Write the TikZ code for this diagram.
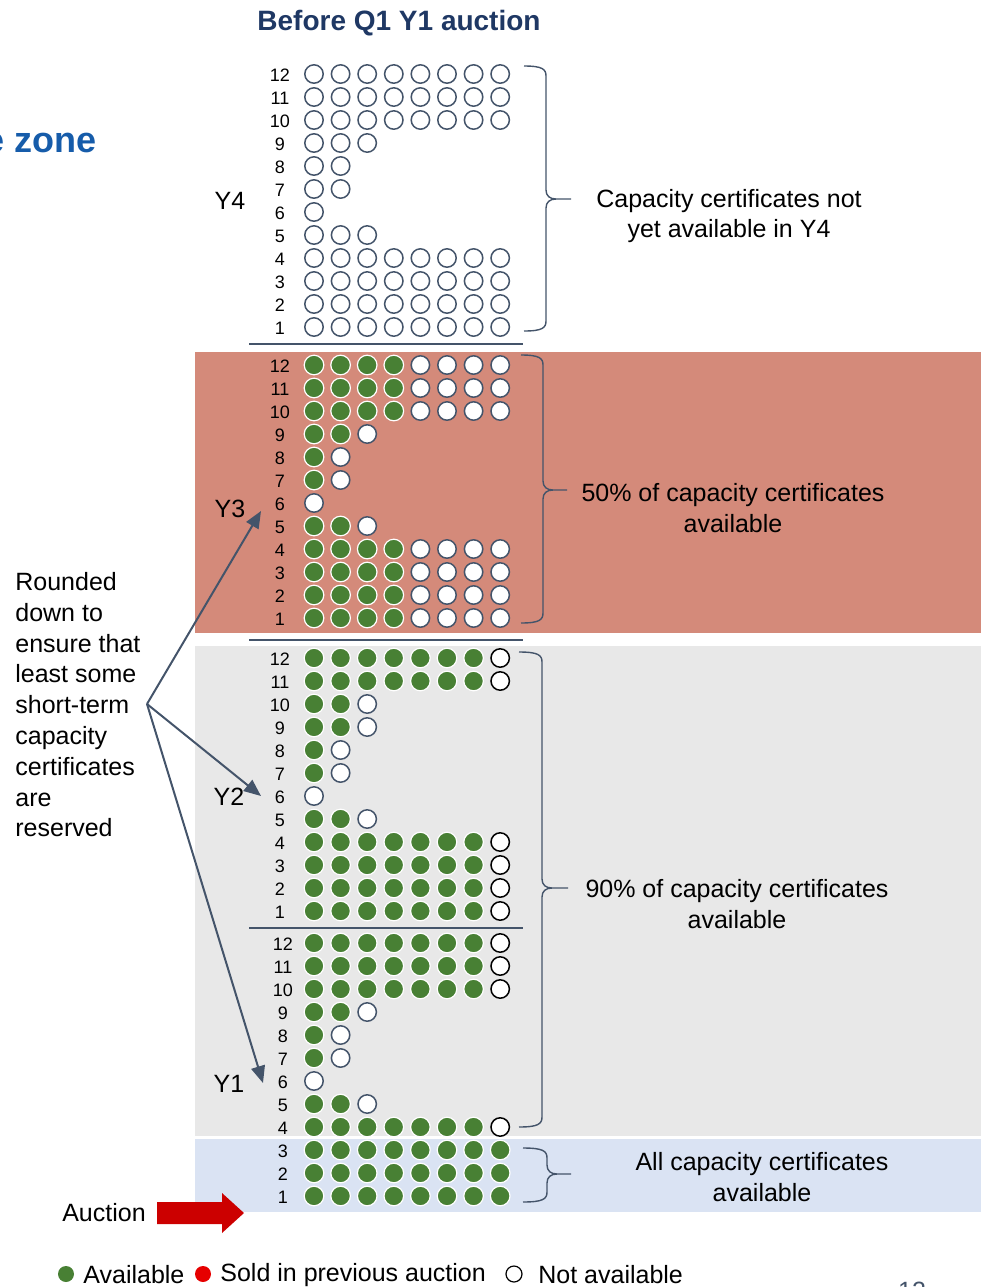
\documentclass[tikz,border=0pt]{standalone}
\usepackage{fontspec}
\setmainfont{Liberation Sans}
\usetikzlibrary{arrows.meta}

\definecolor{slate}{RGB}{68,84,106}
\definecolor{titlenavy}{RGB}{31,56,100}
\definecolor{zoneblue}{RGB}{22,92,170}
\definecolor{salmon}{RGB}{212,138,122}
\definecolor{panelgray}{RGB}{232,232,232}
\definecolor{panelblue}{RGB}{218,227,243}
\definecolor{availgreen}{RGB}{72,128,52}
\definecolor{auctred}{RGB}{204,0,0}
\definecolor{soldred}{RGB}{230,0,0}

\tikzset{
  avail/.style={circle,fill=availgreen,draw=white,line width=0.6pt,minimum size=9.8pt,inner sep=0pt},
  notavail/.style={circle,fill=white,draw=slate,line width=0.75pt,minimum size=9.2pt,inner sep=0pt},
  rowlbl/.style={inner sep=0pt,font=\fontsize{9}{10}\selectfont},
  txt/.style={inner sep=0pt,font=\fontsize{12.5}{15.4}\selectfont},
  ptr/.style={draw=slate,line width=1pt,-{Triangle[length=8.5pt,width=7pt]}},
  bracepath/.style={draw=slate,line width=0.7pt},
  sepline/.style={draw=slate,line width=1pt}
}

\newcommand{\certblock}[5]{%
  \foreach \r/\g/\n in {#4}{%
    \pgfmathsetmacro{\yrow}{#2+(12-\r)*23}
    \node[rowlbl] (#1-lbl\r) at (#3,\yrow+1.5) {\r};
    \foreach \c in {1,...,\n}{%
      \pgfmathsetmacro{\xcol}{314+(\c-1)*26.6}
      \ifnum\c>\g\relax
        \ifnum\c=8\relax
          \node[notavail,draw=#5] (#1-\r-\c) at (\xcol,\yrow) {};
        \else
          \node[notavail] (#1-\r-\c) at (\xcol,\yrow) {};
        \fi
      \else
        \node[avail] (#1-\r-\c) at (\xcol,\yrow) {};
      \fi
    }
  }
}

\newcommand{\capbrace}[6]{%
  \draw[bracepath] (#1,#4) .. controls ({#2-4},#4) and (#2,{#4+3}) .. (#2,{#4+10})
    -- (#2,{#5-9}) .. controls (#2,{#5-3}) and ({#2+4},#5) .. ({#2+10},#5) -- (#3,#5)
    -- ({#2+10},#5) .. controls ({#2+4},#5) and (#2,{#5+3}) .. (#2,{#5+9})
    -- (#2,{#6-10}) .. controls (#2,{#6-3}) and ({#2-4},#6) .. (#1,#6);
}

\begin{document}
\begin{tikzpicture}[x=0.5pt,y=-0.5pt]
  \useasboundingbox (0,0) rectangle (981,1287);
  \clip (0,0) rectangle (981,1287);

  \fill[salmon] (195,352) rectangle (981,633);
  \fill[panelgray] (195,646) rectangle (981,1136);
  \fill[panelblue] (195,1139) rectangle (981,1212);

  \node[font=\bfseries\fontsize{14}{16}\selectfont,text=titlenavy] (title) at (399,23) {Before Q1 Y1 auction};
  \node[anchor=east,inner sep=0pt,font=\bfseries\fontsize{18}{20}\selectfont,text=zoneblue] (zone) at (97,143) {e zone};

  \certblock{yfour}{74}{280}{12/0/8,11/0/8,10/0/8,9/0/3,8/0/2,7/0/2,6/0/1,5/0/3,4/0/8,3/0/8,2/0/8,1/0/8}{slate}
  \certblock{ythree}{365}{280}{12/4/8,11/4/8,10/4/8,9/2/3,8/1/2,7/1/2,6/0/1,5/2/3,4/4/8,3/4/8,2/4/8,1/4/8}{slate}
  \certblock{ytwo}{658}{280}{12/7/8,11/7/8,10/2/3,9/2/3,8/1/2,7/1/2,6/0/1,5/2/3,4/7/8,3/7/8,2/7/8,1/7/8}{black}
  \certblock{yone}{943}{283}{12/7/8,11/7/8,10/7/8,9/2/3,8/1/2,7/1/2,6/0/1,5/2/3,4/7/8,3/8/8,2/8/8,1/8/8}{black}

  \draw[sepline] (249,344) -- (523,344);
  \draw[sepline] (249,640) -- (523,640);
  \draw[sepline] (249,928) -- (523,928);

  \node[txt] (yfourlbl) at (230,201) {Y4};
  \node[txt] (ythreelbl) at (230,509) {Y3};
  \node[txt] (ytwolbl) at (229,797) {Y2};
  \node[txt] (yonelbl) at (229,1084) {Y1};

  \capbrace{524}{546}{571}{66}{199}{331}
  \capbrace{521}{543}{567}{355}{490}{623}
  \capbrace{519}{542}{568}{652}{888}{1127}
  \capbrace{523}{547}{571}{1148}{1174}{1202}

  \node[txt,align=center] (yfourtxt) at (729,216) {Capacity certificates not\\yet available in Y4};
  \node[txt,align=center] (ythreetxt) at (733,508) {50\% of capacity certificates\\available};
  \node[txt,align=center] (ytwotxt) at (737,904) {90\% of capacity certificates\\available};
  \node[txt,align=center] (yonetxt) at (762,1177) {All capacity certificates\\available};

  \node[txt,align=left,anchor=north west] (reserve) at (15,572)
    {Rounded\\down to\\ensure that\\least some\\short-term\\capacity\\certificates\\are\\reserved};
  \coordinate (hub) at (147,704);
  \coordinate (ythreetip) at (261,511);
  \coordinate (ytwotip) at (261,796);
  \coordinate (yonetip) at (263,1083);
  \draw[ptr] (hub) -- (ythreetip);
  \draw[ptr] (hub) -- (ytwotip);
  \draw[ptr] (hub) -- (yonetip);

  \node[txt] (auction) at (104,1213) {Auction};
  \fill[auctred] (157,1202) -- (222,1202) -- (222,1193) -- (244,1213) -- (222,1233)
    -- (222,1224) -- (157,1224) -- cycle;

  \fill[availgreen] (66,1274) circle (8);
  \node[txt,anchor=west] (legavail) at (83,1275) {Available};
  \fill[soldred] (203,1274) circle (8);
  \node[txt,anchor=west] (legsold) at (220,1275) {Sold in previous auction};
  \draw[black,line width=0.6pt,fill=white] (514,1274) circle (8);
  \node[txt,anchor=west] (legnot) at (538,1275) {Not available};

  \node[anchor=base,inner sep=0pt,text=slate,font=\fontsize{12.5}{14}\selectfont] (pagenum) at (912,1299) {12};
\end{tikzpicture}
\end{document}
